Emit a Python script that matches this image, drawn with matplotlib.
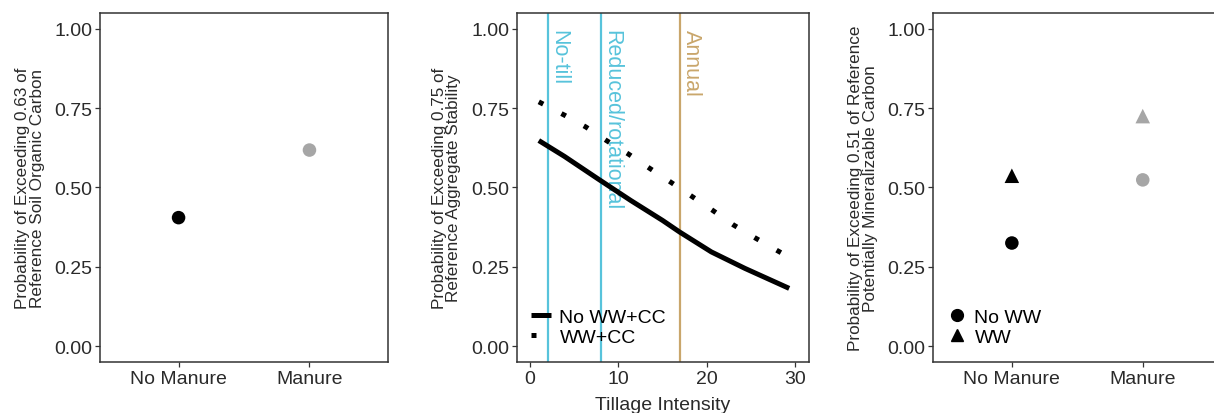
import matplotlib
matplotlib.use("Agg")
import matplotlib.pyplot as plt
from matplotlib.lines import Line2D

plt.rcParams["font.family"] = ["Liberation Sans", "DejaVu Sans"]

# --- data ---
manure_levels = ["No Manure", "Manure"]
soc_prob = [0.405, 0.618]

tillage_x = [1.0, 3.9, 7.7, 11.4, 15.0, 16.9, 20.5, 24.3, 29.3]
no_wwcc = [0.648, 0.598, 0.527, 0.459, 0.396, 0.360, 0.297, 0.245, 0.182]
wwcc_x = [1.0, 3.9, 6.3, 8.7, 11.1, 13.5, 15.9, 18.3, 20.7, 23.0, 25.4, 27.9, 29.3]
wwcc = [0.770, 0.728, 0.691, 0.647, 0.606, 0.561, 0.517, 0.472, 0.427, 0.382, 0.342, 0.302, 0.280]
tillage_refs = [2, 8, 17]
tillage_ref_labels = ["No-till", "Reduced/rotational", "Annual"]

pmc_no_ww = [0.325, 0.524]
pmc_ww = [0.537, 0.725]

# --- style ---
BLACK = "#000000"
GREY = "#A6A6A6"
CYAN = "#57C3DB"
GOLD = "#C9A66B"
SPINE = "#333333"
TXT = "#2A2A2A"
TICK_FS = 14
LAB_FS = 12.3

fig = plt.figure(figsize=(12.14, 4.14), dpi=100)
bottom, height = 0.1232, 0.843
ax1 = fig.add_axes([0.0824, bottom, 0.2372, height])
ax2 = fig.add_axes([0.4256, bottom, 0.2405, height])
ax3 = fig.add_axes([0.7688, bottom, 0.2372, height])


def style(ax):
    ax.set_ylim(-0.05, 1.05)
    ax.set_yticks([0, 0.25, 0.5, 0.75, 1.0])
    ax.set_yticklabels(["0.00", "0.25", "0.50", "0.75", "1.00"])
    for s in ax.spines.values():
        s.set_color(SPINE)
        s.set_linewidth(1.1)
    ax.tick_params(length=3.5, width=0.9, color=SPINE, labelsize=TICK_FS,
                   labelcolor=TXT, pad=2)


def ylab(ax, text):
    ax.set_ylabel(text, fontsize=LAB_FS, color=TXT, labelpad=7, linespacing=0.98)


# Panel 1: soil organic carbon
x_pos = [1, 2]
ax1.scatter(x_pos, soc_prob, s=95, c=[BLACK, GREY], zorder=3, linewidths=0)
ax1.set_xlim(0.4, 2.6)
ax1.set_xticks(x_pos)
ax1.set_xticklabels(manure_levels)
style(ax1)
ylab(ax1, "Probability of Exceeding 0.63 of\nReference Soil Organic Carbon")

# Panel 2: aggregate stability vs tillage intensity
for xv, lab, col in zip(tillage_refs, tillage_ref_labels, [CYAN, CYAN, GOLD]):
    ax2.axvline(xv, color=col, lw=1.6, zorder=1)
    ax2.text(xv + 1.3, 1.0, lab, rotation=-90, color=col, fontsize=15.5,
             ha="center", va="top")
ax2.plot(tillage_x, no_wwcc, color=BLACK, lw=3.6, solid_capstyle="butt",
         solid_joinstyle="round", zorder=3)
ax2.plot(wwcc_x, wwcc, color=BLACK, lw=3.6, linestyle=(0, (1, 4.1)),
         dash_capstyle="butt", zorder=3)
ax2.set_xlim(-1.5, 31.5)
ax2.set_xticks([0, 10, 20, 30])
style(ax2)
ax2.set_xlabel("Tillage Intensity", fontsize=TICK_FS, color=TXT, labelpad=7)
ylab(ax2, "Probability of Exceeding 0.75 of\nReference Aggregate Stability")
h2 = [Line2D([], [], color=BLACK, lw=3.6, solid_capstyle="butt"),
      Line2D([], [], color=BLACK, lw=3.6, linestyle=(0, (1, 4.1)),
             dash_capstyle="butt")]
ax2.legend(h2, ["No WW+CC", "WW+CC"], loc="lower left",
           bbox_to_anchor=(0.05, 0.047), frameon=False, fontsize=TICK_FS,
           handlelength=1.0, handletextpad=0.45, labelspacing=0.1,
           borderaxespad=0, borderpad=0)

# Panel 3: potentially mineralizable carbon
ax3.scatter(x_pos, pmc_no_ww, s=95, marker="o", c=[BLACK, GREY], zorder=3,
            linewidths=0)
ax3.scatter(x_pos, pmc_ww, s=110, marker="^", c=[BLACK, GREY], zorder=3,
            linewidths=0)
ax3.set_xlim(0.4, 2.6)
ax3.set_xticks(x_pos)
ax3.set_xticklabels(manure_levels)
style(ax3)
ylab(ax3, "Probability of Exceeding 0.51 of Reference\nPotentially Mineralizable Carbon")
h3 = [Line2D([], [], color=BLACK, marker="o", linestyle="none", markersize=8.5),
      Line2D([], [], color=BLACK, marker="^", linestyle="none", markersize=9)]
ax3.legend(h3, ["No WW", "WW"], loc="lower left",
           bbox_to_anchor=(0.055, 0.047), frameon=False, fontsize=TICK_FS,
           handlelength=0.8, handletextpad=0.5, labelspacing=0.1,
           borderaxespad=0, borderpad=0)

fig.savefig("out.png", dpi=100)
